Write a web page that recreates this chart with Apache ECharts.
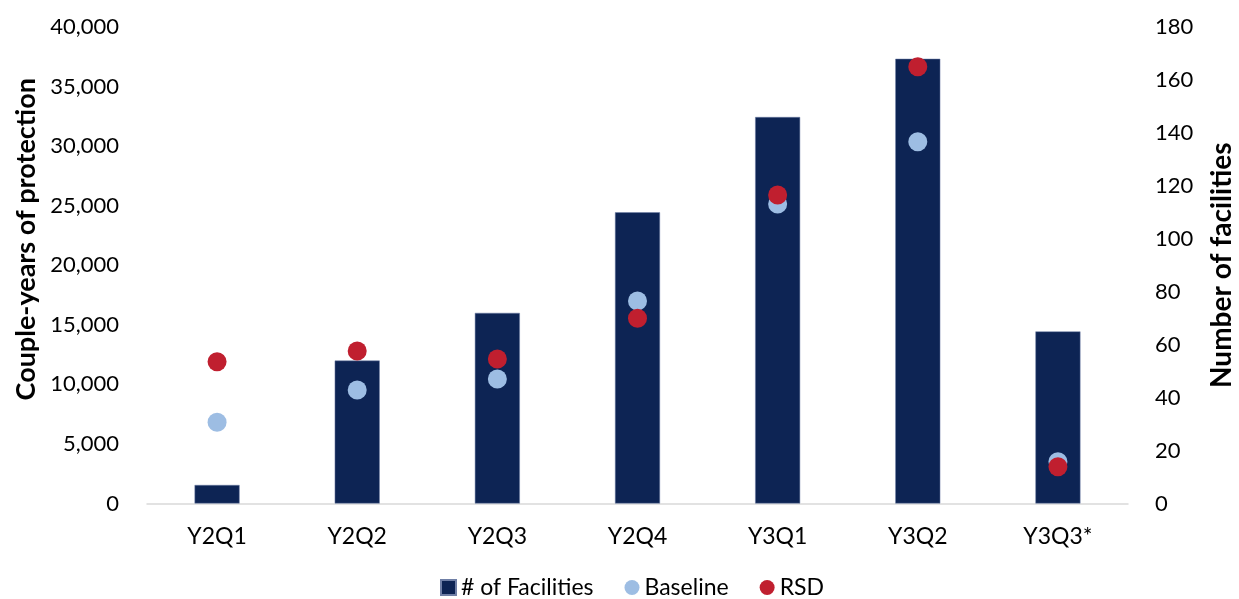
<!DOCTYPE html>
<html>
<head>
<meta charset="utf-8">
<script src="https://cdn.jsdelivr.net/npm/echarts@6/dist/echarts.min.js"></script>
<style>
  html, body { margin: 0; padding: 0; background: #ffffff; }
  #chart { width: 1239px; height: 599px; }
</style>
</head>
<body>
<div id="chart"></div>
<script>
// Quarters on the category axis
const quarters = ['Y2Q1', 'Y2Q2', 'Y2Q3', 'Y2Q4', 'Y3Q1', 'Y3Q2', 'Y3Q3*'];
// Number of facilities (right axis)
const facilities = [7, 54, 72, 110, 146, 168, 65];
// Couple-years of protection (left axis)
const baseline = [6820, 9530, 10450, 17000, 25140, 30370, 3510];
const rsd = [11900, 12800, 12130, 15550, 25900, 36670, 3090];

const FONT = 'Lato, "Open Sans", sans-serif';
const chart = echarts.init(document.getElementById('chart'), null, { renderer: 'canvas' });

chart.setOption({
  animation: false,
  textStyle: { fontFamily: FONT, color: '#000' },
  grid: {
    left: 147, right: 111, top: 27, bottom: 95.5,
    containLabel: false,
    outerBoundsMode: 'none'
  },
  legend: {
    top: 571,
    left: 435,
    itemGap: 31,
    itemWidth: 15,
    itemHeight: 15,
    textStyle: { fontFamily: FONT, fontSize: 23, color: '#000' },
    data: [
      { name: '# of Facilities', icon: 'rect' },
      { name: 'Baseline', icon: 'circle' },
      { name: 'RSD', icon: 'circle' }
    ]
  },
  xAxis: {
    type: 'category',
    data: quarters,
    axisLine: { lineStyle: { color: '#d9d9d9', width: 1.5 } },
    axisTick: { show: false },
    axisLabel: { fontFamily: FONT, fontSize: 23, color: '#000', margin: 22 }
  },
  yAxis: [
    {
      type: 'value',
      min: 0, max: 40000, interval: 5000,
      name: 'Couple-years of protection',
      nameLocation: 'middle',
      nameRotate: 90,
      nameGap: 107,
      nameTextStyle: { fontFamily: FONT, fontSize: 27, fontWeight: 'bold', color: '#000', padding: [0, 0, 0, 52] },
      axisLine: { show: false },
      axisTick: { show: false },
      splitLine: { show: false },
      axisLabel: {
        fontFamily: FONT, fontSize: 22, color: '#000', margin: 28,
        formatter: v => v.toLocaleString('en-US')
      }
    },
    {
      type: 'value',
      position: 'right',
      min: 0, max: 180, interval: 20,
      name: 'Number of facilities',
      nameLocation: 'middle',
      nameRotate: 90,
      nameGap: 80,
      nameTextStyle: { fontFamily: FONT, fontSize: 28, fontWeight: 'bold', color: '#000' },
      axisLine: { show: false },
      axisTick: { show: false },
      splitLine: { show: false },
      axisLabel: { fontFamily: FONT, fontSize: 22, color: '#000', margin: 27 }
    }
  ],
  series: [
    {
      name: '# of Facilities',
      type: 'bar',
      yAxisIndex: 1,
      data: facilities,
      barWidth: 45,
      itemStyle: { color: '#0d2454', borderColor: '#6f7fa6', borderWidth: 0.5 },
      z: 1
    },
    {
      name: 'Baseline',
      type: 'scatter',
      yAxisIndex: 0,
      data: baseline,
      symbol: 'circle',
      symbolSize: 19,
      itemStyle: { color: '#9dbde3', opacity: 1 },
      z: 2
    },
    {
      name: 'RSD',
      type: 'scatter',
      yAxisIndex: 0,
      data: rsd,
      symbol: 'circle',
      symbolSize: 19,
      itemStyle: { color: '#c01f2f', opacity: 1 },
      z: 3
    }
  ]
});
</script>
</body>
</html>
